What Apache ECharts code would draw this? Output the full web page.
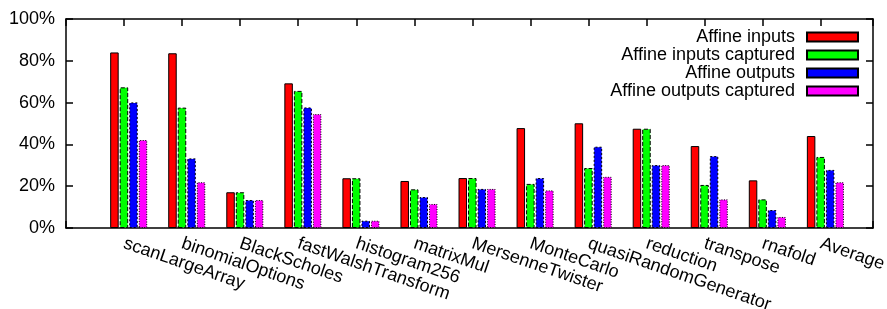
<!DOCTYPE html>
<html>
<head>
<meta charset="utf-8">
<script src="https://cdn.jsdelivr.net/npm/echarts@6/dist/echarts.min.js"></script>
<style>
  html, body { margin: 0; padding: 0; background: #fff; }
  #chart { width: 887px; height: 309px; }
</style>
</head>
<body>
<div id="chart"></div>
<script>
// benchmarks, one cluster each
const categories = ['scanLargeArray', 'binomialOptions', 'BlackScholes', 'fastWalshTransform',
  'histogram256', 'matrixMul', 'MersenneTwister', 'MonteCarlo', 'quasiRandomGenerator',
  'reduction', 'transpose', 'rnafold', 'Average']

// percentages
const affineInputs = [84, 83.6, 17.1, 69.2, 23.8, 22.5, 23.9, 47.8, 50.1, 47.5, 39.2, 22.8, 44.0]
const affineInputsCaptured = [67.3, 57.6, 17.1, 65.6, 23.8, 18.5, 23.9, 21.1, 28.7, 47.5, 20.6, 13.7, 34.0]
const affineOutputs = [60.1, 33.3, 13.4, 57.7, 3.5, 14.8, 18.7, 23.9, 38.9, 30.1, 34.4, 8.6, 27.8]
const affineOutputsCaptured = [42.1, 21.9, 13.4, 54.5, 3.5, 11.5, 18.7, 18.0, 24.5, 30.1, 13.7, 5.3, 21.9]

const yTicks = [0, 20, 40, 60, 80, 100]

let myChart = echarts.init(document.getElementById('chart'))

const font = 'Liberation Sans'
const clusterShift = 0.08 // gnuplot puts the cluster slightly right of the tic

function makeSeries (name, values, color, dash) {
  return {
    name: name,
    type: 'bar',
    xAxisIndex: 0,
    yAxisIndex: 0,
    barWidth: 8.5,
    barGap: '12%',
    itemStyle: {
      color: color,
      borderColor: '#000',
      borderWidth: 1,
      borderType: dash
    },
    data: values.map((v, i) => [i + clusterShift, v])
  }
}

const axisLineStyle = { show: true, onZero: false, lineStyle: { color: '#000', width: 1.5 } }
const tickStyle = { show: true, inside: true, length: 7, lineStyle: { color: '#000', width: 1.5 } }

let option = {
  animation: false,
  backgroundColor: '#fff',
  grid: {
    left: 66,
    right: 14,
    top: 19,
    bottom: 81,
    outerBoundsMode: 'none'
  },
  legend: {
    orient: 'vertical',
    right: 28,
    top: 28,
    padding: 0,
    align: 'right',
    itemWidth: 51,
    itemHeight: 9,
    itemGap: 0,
    icon: 'rect',
    textStyle: {
      fontFamily: font,
      fontSize: 18,
      color: '#000',
      padding: [0, 7, 0, 0]
    },
    data: ['Affine inputs', 'Affine inputs captured', 'Affine outputs', 'Affine outputs captured']
  },
  xAxis: [
    {
      type: 'value',
      min: -1,
      max: 12.9,
      interval: 1,
      position: 'bottom',
      axisLine: axisLineStyle,
      axisTick: tickStyle,
      splitLine: { show: false },
      axisLabel: {
        rotate: -19,
        margin: 15,
        fontFamily: font,
        fontSize: 18,
        color: '#000',
        formatter: function (v) {
          return (Number.isInteger(v) && v >= 0 && v < categories.length) ? categories[v] : ''
        }
      }
    },
    {
      type: 'value',
      min: -1,
      max: 12.9,
      interval: 1,
      position: 'top',
      axisLine: axisLineStyle,
      axisTick: tickStyle,
      splitLine: { show: false },
      axisLabel: { show: false }
    }
  ],
  yAxis: [
    {
      type: 'value',
      min: yTicks[0],
      max: yTicks[yTicks.length - 1],
      interval: 20,
      position: 'left',
      axisLine: axisLineStyle,
      axisTick: tickStyle,
      splitLine: { show: false },
      axisLabel: {
        margin: 11,
        fontFamily: font,
        fontSize: 18,
        color: '#000',
        formatter: '{value}%'
      }
    },
    {
      type: 'value',
      min: yTicks[0],
      max: yTicks[yTicks.length - 1],
      interval: 20,
      position: 'right',
      axisLine: axisLineStyle,
      axisTick: tickStyle,
      splitLine: { show: false },
      axisLabel: { show: false }
    }
  ],
  series: [
    makeSeries('Affine inputs', affineInputs, '#ff0000', 'solid'),
    makeSeries('Affine inputs captured', affineInputsCaptured, '#00ff00', [4, 2]),
    makeSeries('Affine outputs', affineOutputs, '#0000ff', [2, 2]),
    makeSeries('Affine outputs captured', affineOutputsCaptured, '#ff00ff', [1, 1.5])
  ]
}

myChart.setOption(option, true)
</script>
</body>
</html>
